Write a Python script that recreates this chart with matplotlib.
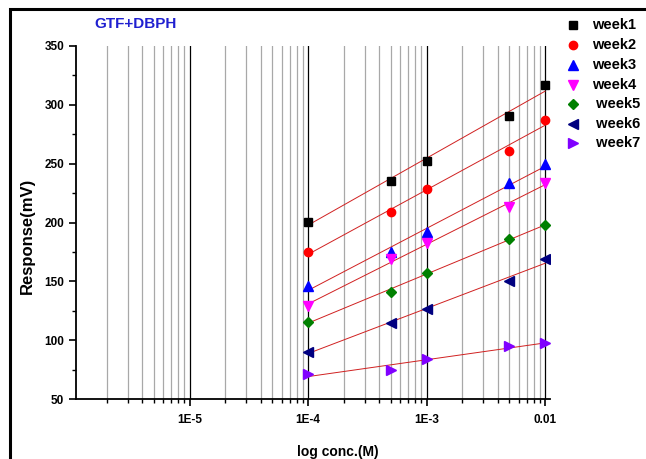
import numpy as np
import matplotlib
matplotlib.use("Agg")
import matplotlib.pyplot as plt
from matplotlib.patches import Rectangle
from matplotlib.lines import Line2D
from matplotlib.ticker import LogLocator, NullFormatter, FixedLocator, FixedFormatter, MultipleLocator

plt.rcParams['font.family'] = ['Liberation Sans', 'DejaVu Sans']
plt.rcParams['font.weight'] = 'bold'

conc = [1e-4, 5e-4, 1e-3, 5e-3, 1e-2]
week1 = [200.7, 235.6, 252.6, 290.3, 316.9]
week2 = [174.7, 209.2, 228.5, 261.0, 287.4]
week3 = [146.3, 175.2, 191.7, 233.3, 249.5]
week4 = [129.0, 168.7, 182.9, 212.9, 233.9]
week5 = [115.7, 140.7, 157.4, 186.0, 197.9]
week6 = [90.2, 114.3, 126.5, 150.3, 169.0]
week7 = [71.3, 74.9, 83.7, 95.3, 97.3]

labels = ["week1", "week2", "week3", "week4", " week5", " week6", " week7"]
series = [week1, week2, week3, week4, week5, week6, week7]
markers = ["s", "o", "^", "v", "D", "<", ">"]
colors = ["black", "#ff0000", "#0000ff", "#ff00ff", "#008000", "#000080", "#8000ff"]
sizes = [5.5, 6, 6.5, 6.5, 5.5, 6.5, 6.5]

W, H = 646, 459
fig = plt.figure(figsize=(W / 100, H / 100), dpi=100)
ax = fig.add_axes([76 / W, 1 - 399 / H, 474 / W, 353 / H])

# frame around the whole figure (open on the right and bottom)
fig.add_artist(Rectangle((10 / W, -0.1), 2.0, 1 - 9 / H + 0.1,
                         transform=fig.transFigure, fill=False,
                         edgecolor="black", linewidth=2.2))

ax.set_xscale("log")
ax.set_xlim(1.1e-6, 0.011)
ax.set_ylim(50, 350)

# vertical grid: black at decades, grey in between
for dec in [1e-5, 1e-4, 1e-3, 1e-2]:
    ax.axvline(dec, color="black", linewidth=0.9, zorder=1)
for dec in [1e-6, 1e-5, 1e-4, 1e-3]:
    for k in range(2, 10):
        ax.axvline(k * dec, color="#a8a8a8", linewidth=0.9, zorder=1)

x = np.array(conc)
lx = np.log10(x)
for y, m, c, s in zip(series, markers, colors, sizes):
    slope, icpt = np.polyfit(lx, y, 1)
    ax.plot(x, slope * lx + icpt, color="#d02020", linewidth=0.7, zorder=2)
    ax.plot(x, y, linestyle="none", marker=m, color=c, markersize=s, zorder=3)

for side in ["top", "right"]:
    ax.spines[side].set_visible(False)
for side in ["left", "bottom"]:
    ax.spines[side].set_linewidth(1.3)

ax.xaxis.set_major_locator(FixedLocator([1e-5, 1e-4, 1e-3, 1e-2]))
ax.xaxis.set_major_formatter(FixedFormatter(["1E-5", "1E-4", "1E-3", "0.01"]))
ax.xaxis.set_minor_locator(LogLocator(base=10, subs=np.arange(2, 10)))
ax.xaxis.set_minor_formatter(NullFormatter())
ax.yaxis.set_major_locator(MultipleLocator(50))
ax.yaxis.set_minor_locator(MultipleLocator(25))

ax.tick_params(which="major", direction="out", length=5, width=1.2, labelsize=8.5)
ax.tick_params(axis="x", which="major", pad=6)
ax.tick_params(which="minor", direction="out", length=3, width=1.0)
for t in ax.get_xticklabels() + ax.get_yticklabels():
    t.set_fontweight("bold")

fig.text(338 / W, 1 - 452 / H, "log conc.(M)", fontsize=10, fontweight="bold",
         ha="center", va="center")
fig.text(27 / W, 1 - 236 / H, "Response(mV)", fontsize=12, fontweight="bold",
         ha="center", va="center", rotation=90)
fig.text(136 / W, 1 - 24 / H, "GTF+DBPH", color="#2020d0", fontsize=11,
         fontweight="bold", ha="center", va="center")

# legend entries on the right
rows = [25, 45, 65, 85, 104, 124, 143]
for lab, m, c, s, r in zip(labels, markers, colors, sizes, rows):
    fig.add_artist(Line2D([573 / W], [1 - r / H], linestyle="none", marker=m,
                          color=c, markersize=s, transform=fig.transFigure))
    fig.text(592 / W, 1 - r / H, lab, fontsize=10.5, fontweight="bold",
             ha="left", va="center")

fig.savefig("out.png", dpi=100)
